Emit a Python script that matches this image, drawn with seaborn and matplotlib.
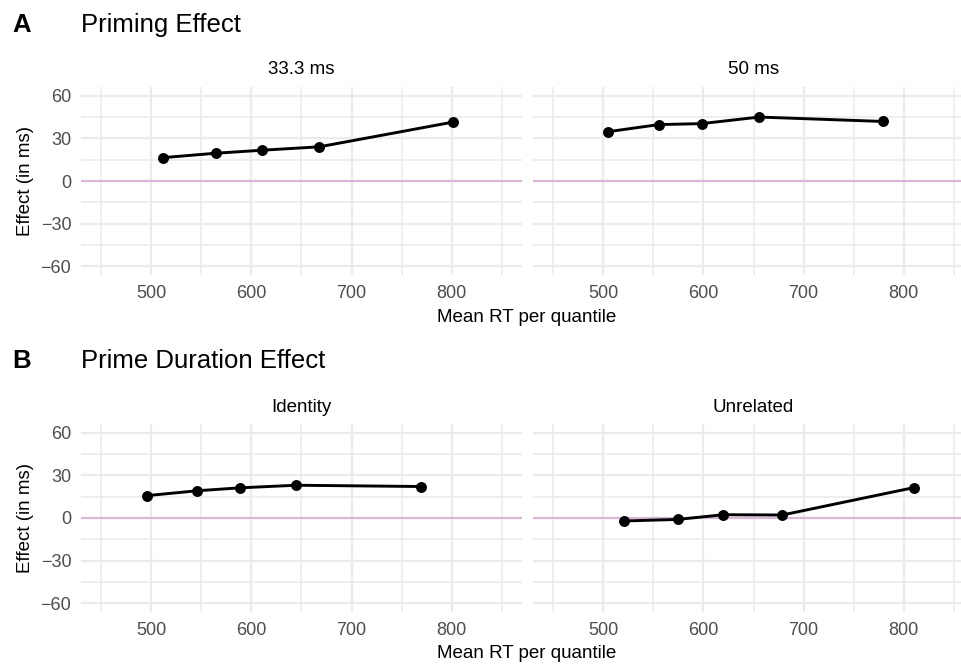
import matplotlib
matplotlib.use("Agg")
import matplotlib.pyplot as plt
import seaborn as sns
import pandas as pd
from matplotlib.ticker import MultipleLocator

# data (mean RT per quantile, effect in ms)
rt_333 = [511.7, 564.4, 610.4, 667.7, 800.7]
eff_333 = [16.4, 19.5, 21.6, 24.0, 41.3]
rt_50 = [504.7, 555.4, 598.4, 655.7, 779.4]
eff_50 = [34.6, 39.6, 40.3, 44.9, 41.8]
rt_ident = [495.7, 545.4, 589.0, 644.7, 769.7]
eff_ident = [15.7, 19.1, 21.2, 23.0, 22.1]
rt_unrel = [520.7, 574.4, 620.0, 678.7, 810.4]
eff_unrel = [-2.1, -1.0, 2.3, 2.1, 21.4]

facets = ["33.3 ms", "50 ms", "Identity", "Unrelated"]
panel_titles = ["Priming Effect", "Prime Duration Effect"]
panel_tags = ["A", "B"]

df = pd.concat([
    pd.DataFrame({"facet": "33.3 ms", "rt": rt_333, "effect": eff_333}),
    pd.DataFrame({"facet": "50 ms", "rt": rt_50, "effect": eff_50}),
    pd.DataFrame({"facet": "Identity", "rt": rt_ident, "effect": eff_ident}),
    pd.DataFrame({"facet": "Unrelated", "rt": rt_unrel, "effect": eff_unrel}),
])

sns.set_theme(style="white")
plt.rcParams["font.family"] = ["Liberation Sans", "DejaVu Sans"]
plt.rcParams["text.color"] = "black"
plt.rcParams["axes.labelcolor"] = "black"

W, H = 961, 666
fig = plt.figure(figsize=(W / 100, H / 100), dpi=100)

grid_col = "#EBEBEB"
zero_col = "#D9B6DA"
tick_col = "#4D4D4D"

# panel boxes in pixels: (left, top, width, height)
boxes = [(81, 87, 441, 188), (533, 87, 441, 188),
         (81, 424, 441, 188), (533, 424, 441, 188)]

for i, (name, box) in enumerate(zip(facets, boxes)):
    l, t, w, h = box
    ax = fig.add_axes([l / W, 1 - (t + h) / H, w / W, h / H])
    sub = df[df["facet"] == name]
    ax.axhline(0, color=zero_col, lw=1.5, zorder=1)
    sns.lineplot(data=sub, x="rt", y="effect", color="black", lw=2.1,
                 sort=False, estimator=None, ax=ax, zorder=3)
    sns.scatterplot(data=sub, x="rt", y="effect", color="black", s=62,
                    edgecolor="black", linewidth=0, ax=ax, zorder=4)
    ax.set_xlim(430, 870)
    ax.set_ylim(-66, 66)
    ax.xaxis.set_minor_locator(MultipleLocator(50))
    ax.yaxis.set_minor_locator(MultipleLocator(15))
    ax.set_xticks([500, 600, 700, 800])
    ax.set_yticks([-60, -30, 0, 30, 60])
    ax.grid(True, which="major", color=grid_col, lw=1.6)
    ax.grid(True, which="minor", color=grid_col, lw=1.2)
    ax.set_axisbelow(True)
    for s in ax.spines.values():
        s.set_visible(False)
    ax.tick_params(which="both", length=0, labelsize=13, labelcolor=tick_col)
    ax.tick_params(axis="x", pad=7)
    ax.tick_params(axis="y", pad=7)
    ax.set_xlabel("")
    ax.set_ylabel("")
    ax.set_yticklabels(["\u221260", "\u221230", "0", "30", "60"])
    if i % 2 == 1:
        ax.tick_params(axis="y", labelleft=False)
    else:
        ax.set_ylabel("Effect (in ms)", fontsize=13.5, labelpad=5)
    ax.set_title(name, fontsize=13.5, pad=9, color="black")

# panel tags, titles and shared x labels
for r, (tag, title) in enumerate(zip(panel_tags, panel_titles)):
    y0 = 25 + r * 336
    fig.text(12 / W, 1 - y0 / H, tag, fontsize=18.5, fontweight="bold", va="center", ha="left")
    fig.text(81 / W, 1 - y0 / H, title, fontsize=18.5, va="center", ha="left")
    fig.text(527 / W, 1 - (317 + r * 336) / H, "Mean RT per quantile", fontsize=13.5,
             va="center", ha="center")

fig.savefig("out.png", dpi=100)
